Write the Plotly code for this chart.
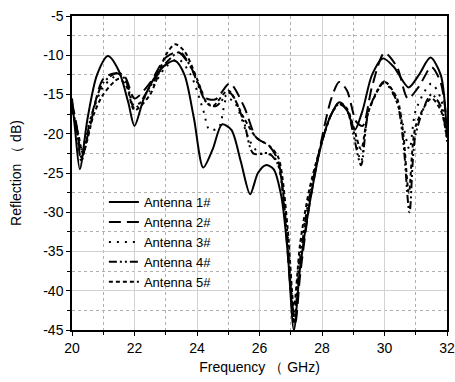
import plotly.graph_objects as go

names = ["Antenna 1#", "Antenna 2#", "Antenna 3#", "Antenna 4#", "Antenna 5#"]

f1 = [20.0, 20.1, 20.25, 20.5, 20.8, 21.15, 21.5, 21.8, 22.0, 22.3, 22.7, 23.0, 23.3, 23.6, 23.9, 24.2, 24.5, 24.8, 25.1, 25.4, 25.7, 25.95, 26.2, 26.45, 26.7, 26.9, 27.1, 27.3, 27.6, 28.0, 28.3, 28.55, 28.8, 29.05, 29.3, 29.6, 29.95, 30.3, 30.77, 31.1, 31.47, 31.8, 32.0]
v1 = [-15.5, -19.5, -24.5, -18.0, -12.5, -10.1, -12.0, -16.0, -19.0, -15.5, -12.5, -11.2, -10.7, -12.5, -18.0, -24.3, -22.0, -18.8, -19.5, -23.5, -27.7, -25.0, -24.0, -24.5, -28.0, -35.0, -45.0, -37.0, -29.0, -21.0, -17.5, -16.0, -17.0, -19.5, -17.0, -12.5, -10.4, -11.5, -14.1, -12.5, -10.3, -12.5, -20.5]

f2 = [20.0, 20.15, 20.3, 20.55, 21.0, 21.4, 21.7, 22.0, 22.5, 23.0, 23.4, 23.8, 24.3, 24.6, 25.05, 25.5, 25.9, 26.3, 26.6, 26.8, 27.0, 27.15, 27.3, 27.6, 28.0, 28.3, 28.55, 28.8, 29.1, 29.3, 29.6, 30.0, 30.4, 30.75, 31.1, 31.5, 31.8, 32.0]
v2 = [-16.0, -19.0, -23.0, -19.5, -13.0, -12.3, -12.8, -15.5, -13.5, -10.3, -9.6, -11.5, -15.5, -15.6, -13.6, -16.5, -20.5, -21.5, -23.5, -30.0, -40.0, -44.0, -38.0, -29.0, -20.5, -15.5, -13.4, -14.5, -18.5, -19.0, -14.0, -9.7, -11.5, -15.5, -14.0, -11.5, -13.5, -19.0]

f3 = [20.0, 20.15, 20.3, 20.6, 21.0, 21.5, 21.75, 22.0, 22.5, 23.0, 23.4, 23.8, 24.2, 24.4, 24.7, 24.95, 25.2, 25.7, 26.0, 26.4, 26.6, 26.9, 27.1, 27.3, 27.6, 28.0, 28.3, 28.55, 28.8, 29.0, 29.25, 29.5, 30.0, 30.4, 30.6, 30.8, 31.0, 31.5, 31.8, 32.0]
v3 = [-17.0, -19.5, -22.0, -18.0, -14.0, -12.5, -13.5, -16.5, -14.5, -11.5, -10.5, -12.5, -17.0, -19.5, -19.2, -15.5, -16.0, -21.0, -22.5, -22.7, -24.0, -33.0, -43.0, -35.0, -28.0, -21.0, -17.5, -16.2, -17.0, -19.5, -23.5, -17.0, -13.5, -16.0, -19.0, -22.0, -17.0, -13.6, -15.5, -20.0]

f4 = [20.0, 20.15, 20.3, 20.6, 21.0, 21.5, 21.75, 22.0, 22.5, 23.0, 23.45, 23.8, 24.3, 24.6, 25.05, 25.5, 25.8, 26.3, 26.6, 26.9, 27.1, 27.3, 27.6, 28.0, 28.3, 28.55, 28.8, 29.0, 29.25, 29.5, 30.0, 30.4, 30.6, 30.8, 31.0, 31.5, 31.8, 32.0]
v4 = [-16.5, -19.5, -23.5, -18.0, -13.5, -12.2, -13.5, -16.8, -14.0, -11.0, -9.6, -11.5, -16.0, -16.5, -14.8, -18.5, -22.5, -22.5, -24.0, -34.0, -44.0, -36.0, -28.0, -21.0, -17.5, -16.2, -17.0, -20.0, -24.0, -17.0, -13.3, -16.0, -21.0, -30.0, -20.0, -15.0, -16.5, -21.0]

f5 = [20.0, 20.2, 20.35, 20.7, 21.0, 21.5, 21.75, 22.0, 22.5, 23.0, 23.3, 23.6, 24.0, 24.3, 24.5, 25.0, 25.5, 25.9, 26.3, 26.6, 26.9, 27.1, 27.3, 27.6, 28.0, 28.3, 28.55, 28.8, 29.0, 29.25, 29.5, 30.0, 30.4, 30.6, 30.78, 31.0, 31.5, 31.8, 32.0]
v5 = [-17.0, -20.0, -22.5, -17.5, -15.0, -13.0, -14.0, -17.0, -15.0, -10.0, -8.6, -9.5, -13.0, -16.0, -16.5, -14.5, -18.0, -20.5, -21.5, -23.0, -32.0, -42.0, -34.0, -27.0, -21.0, -17.5, -16.0, -16.8, -19.0, -22.0, -17.0, -13.4, -15.5, -20.0, -27.5, -19.0, -15.5, -17.0, -20.5]

x_ticks = [20, 22, 24, 26, 28, 30, 32]
y_ticks = [-45, -40, -35, -30, -25, -20, -15, -10, -5]
y_tick_text = ["-45", "-40", "-35", "-30", "-25", "-20", "-15", "-10", "-5"]

freqs = [f1, f2, f3, f4, f5]
vals = [v1, v2, v3, v4, v5]
dashes = ["solid", "12px,6px", "2px,6px", "8px,3px,2px,3px,2px,3px", "4px,3px"]

fig = go.Figure()
for n, fx, vy, d in zip(names, freqs, vals, dashes):
    fig.add_trace(go.Scatter(x=fx, y=vy, mode="lines", name=n,
                             line=dict(color="black", width=2, dash=d, shape="spline", smoothing=0.8)))

font = dict(family="Liberation Sans, Arial, sans-serif", size=14, color="black")
fig.update_layout(
    width=455, height=382,
    margin=dict(l=72, r=8, t=16, b=52),
    plot_bgcolor="white", paper_bgcolor="white",
    font=font,
    showlegend=True,
    legend=dict(x=0.085, y=0.455, xanchor="left", yanchor="top", bgcolor="rgba(0,0,0,0)",
                font=dict(family="Liberation Sans, Arial, sans-serif", size=13, color="black"),
                itemwidth=30, tracegroupgap=0),
)
fig.update_xaxes(range=[20, 32], tickvals=x_ticks, showline=True, linecolor="black", linewidth=1.5,
                 mirror=True, ticks="outside", ticklen=4, tickcolor="black", automargin=False,
                 showgrid=True, gridcolor="#d3d3d3", gridwidth=1, zeroline=False,
                 minor=dict(dtick=1, showgrid=True, gridcolor="#b0b0b0", griddash="dot",
                            ticks="outside", ticklen=3, tickcolor="black"),
                 title=dict(text="Frequency （ GHz)", standoff=8, font=font),
                 tickfont=font)
fig.update_yaxes(range=[-45, -5], tickvals=y_ticks, ticktext=y_tick_text, showline=True, linecolor="black", linewidth=1.5,
                 mirror=True, ticks="outside", ticklen=4, tickcolor="black", automargin=False,
                 showgrid=True, gridcolor="#d3d3d3", gridwidth=1, zeroline=False,
                 minor=dict(dtick=2.5, showgrid=True, gridcolor="#b0b0b0", griddash="dot",
                            ticks="outside", ticklen=3, tickcolor="black"),
                 title=dict(text="Reflection （ dB)", standoff=18, font=font),
                 tickfont=font)
fig.write_html("out.html")
